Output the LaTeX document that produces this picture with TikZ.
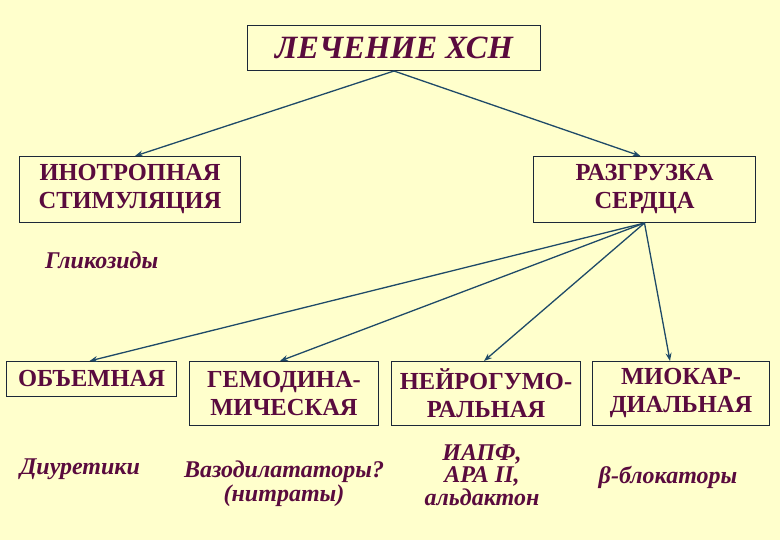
\documentclass[tikz,border=0pt]{standalone}
\usepackage{fontspec}
\setmainfont{Liberation Serif}[BoldFont={* Bold}, ItalicFont={* Italic}, BoldItalicFont={* Bold Italic}]
\usetikzlibrary{arrows.meta,positioning}
\definecolor{colorBg}{HTML}{FFFFCC}
\definecolor{colorText}{HTML}{5A0B3E}
\definecolor{colorArrow}{HTML}{1F4A68}
\definecolor{colorBorder}{HTML}{1C2838}

\begin{document}
\begin{tikzpicture}[
    x=1pt, y=-1pt,
    catbox/.style={
      rectangle, draw=colorBorder, fill=colorBg, line width=1pt,
      anchor=north west, align=center, inner sep=0pt,
      font=\fontsize{24.5}{28}\selectfont\bfseries,
      text=colorText
    },
    drug/.style={
      align=center, inner sep=0pt,
      font=\fontsize{24}{24}\selectfont\bfseries\itshape,
      text=colorText
    },
    arr/.style={-{Stealth[length=8pt, width=6pt]}, line width=1.3pt, draw=colorArrow}
  ]
    \fill[colorBg] (0,0) rectangle (780,540);
    \useasboundingbox (0,0) rectangle (780,540);

    \node[catbox, minimum width=293pt, minimum height=45pt,
      font=\fontsize{32.5}{36}\selectfont\bfseries\itshape] (treat) at (247,25) {ЛЕЧЕНИЕ ХСН};
    \node[catbox, minimum width=221pt, minimum height=66pt] (inot) at (19,156) {ИНОТРОПНАЯ\\СТИМУЛЯЦИЯ};
    \node[catbox, minimum width=222pt, minimum height=66pt] (unload) at (533,156) {РАЗГРУЗКА\\СЕРДЦА};

    \node[catbox, minimum width=170pt, minimum height=35pt] (volume) at (6,361) {ОБЪЕМНАЯ};
    \node[catbox, minimum width=189pt, minimum height=64pt] (hemo) at (189,361) {ГЕМОДИНА-\\МИЧЕСКАЯ};
    \node[catbox, minimum width=189pt, minimum height=64pt] (neuro) at (391,361) {НЕЙРОГУМО-\\РАЛЬНАЯ};
    \node[catbox, minimum width=177pt, minimum height=64pt] (myo) at (592,361) {МИОКАР-\\ДИАЛЬНАЯ};

    \node[drug, anchor=west] (glyc) at (45,260) {Гликозиды};
    \node[drug] (diur) at (80,469) {Диуретики};
    \node[drug] (vaso) at (284,484) {Вазодилататоры?\\(нитраты)};
    \node[drug, font=\fontsize{24}{22.5}\selectfont\bfseries\itshape] (acei) at (482,475) {ИАПФ,\\АРА II,\\альдактон};
    \node[drug] (beta) at (668,477) {β-блокаторы};

    \draw[arr] (treat.south) -- ([xshift=5pt]inot.north);
    \draw[arr] (treat.south) -- ([xshift=-4pt]unload.north);
    \draw[arr] (unload.south) -- ([xshift=-2pt]volume.north);
    \draw[arr] (unload.south) -- ([xshift=-4pt]hemo.north);
    \draw[arr] (unload.south) -- ([xshift=-2pt]neuro.north);
    \draw[arr] (unload.south) -- ([xshift=-11pt]myo.north);
  \end{tikzpicture}
\end{document}
